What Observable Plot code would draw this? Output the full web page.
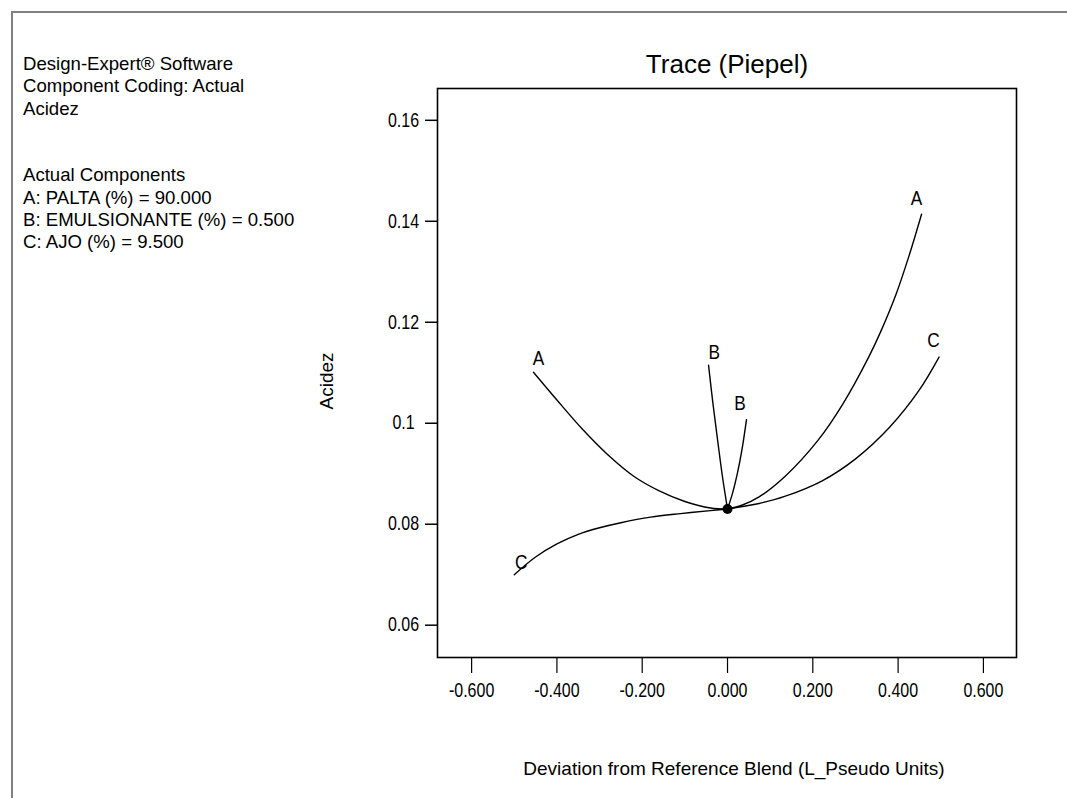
<!DOCTYPE html>
<html><head><meta charset="utf-8">
<script src="https://cdn.jsdelivr.net/npm/d3@7"></script>
<script src="https://cdn.jsdelivr.net/npm/@observablehq/plot@0.6"></script>
<style>
html,body{margin:0;padding:0;background:#fff;width:1067px;height:798px;overflow:hidden;}
#border{position:absolute;left:11px;top:11px;width:1060px;height:800px;border-left:2px solid #808080;border-top:2px solid #808080;}
#info{position:absolute;left:23px;top:53px;font-family:"Liberation Sans",Arial,sans-serif;font-size:18.6px;line-height:22.3px;color:#000;white-space:pre;}
#chart{position:absolute;left:0;top:0;}
</style></head><body>
<div id="border"></div>
<div id="info"></div>
<div id="chart"></div>
<script>
// ---- text ----
const infoLines = [
  "Design-Expert® Software",
  "Component Coding: Actual",
  "Acidez",
  "",
  "",
  "Actual Components",
  "A: PALTA (%) = 90.000",
  "B: EMULSIONANTE (%) = 0.500",
  "C: AJO (%) = 9.500"
];
const chartTitle = "Trace (Piepel)";
const xTitle = "Deviation from Reference Blend (L_Pseudo Units)";
const yTitle = "Acidez";

// ---- ticks ----
const xTicks = [-0.6, -0.4, -0.2, 0, 0.2, 0.4, 0.6];
const xTickLabels = ["-0.600", "-0.400", "-0.200", "0.000", "0.200", "0.400", "0.600"];
const yTicks = [0.06, 0.08, 0.1, 0.12, 0.14, 0.16];
const yTickLabels = ["0.06", "0.08", "0.1", "0.12", "0.14", "0.16"];

// ---- trace curves (deviation, acidez) ----
const aLeftX  = [0, -0.04, -0.10, -0.16, -0.22, -0.28, -0.34, -0.40, -0.455];
const aLeftY  = [0.0830, 0.0832, 0.0845, 0.0866, 0.0895, 0.0937, 0.0988, 0.1046, 0.1101];
const aRightX = [0, 0.035, 0.074, 0.134, 0.212, 0.271, 0.331, 0.360, 0.395, 0.425, 0.455];
const aRightY = [0.0830, 0.0838, 0.0854, 0.0894, 0.0966, 0.1039, 0.1131, 0.1183, 0.1255, 0.1330, 0.1414];
const bLeftX  = [0, -0.012, -0.023, -0.034, -0.0445];
const bLeftY  = [0.0830, 0.0895, 0.0965, 0.1038, 0.1115];
const bRightX = [0, 0.012, 0.023, 0.034, 0.0445];
const bRightY = [0.0830, 0.0862, 0.0900, 0.0948, 0.1007];
const cLeftX  = [0, -0.04, -0.11, -0.18, -0.25, -0.30, -0.35, -0.40, -0.45, -0.50];
const cLeftY  = [0.0830, 0.0827, 0.0821, 0.0814, 0.0803, 0.0793, 0.0780, 0.0761, 0.0735, 0.0700];
const cRightX = [0, 0.035, 0.074, 0.134, 0.222, 0.301, 0.380, 0.449, 0.496];
const cRightY = [0.0830, 0.0835, 0.0841, 0.0855, 0.0886, 0.0930, 0.0992, 0.1065, 0.1131];

// reference blend point
const refX = [0];
const refY = [0.0830];

// curve end labels
const labelText = ["A", "A", "B", "B", "C", "C"];
const labelX = [-0.443, 0.443, -0.031, 0.029, -0.484, 0.483];
const labelY = [0.1128, 0.1445, 0.1141, 0.1039, 0.0725, 0.1164];

// ---- build rows ----
const series = [
  ["A-", aLeftX, aLeftY], ["A+", aRightX, aRightY],
  ["B-", bLeftX, bLeftY], ["B+", bRightX, bRightY],
  ["C-", cLeftX, cLeftY], ["C+", cRightX, cRightY]
];
const rows = series.flatMap(([k, xs, ys]) => xs.map((x, i) => ({k, x, y: ys[i]})));
const refRows = refX.map((x, i) => ({x, y: refY[i]}));
const labelRows = labelText.map((t, i) => ({t, x: labelX[i], y: labelY[i]}));
const yTickRows = yTicks.map((y, i) => ({y, t: yTickLabels[i]}));

document.getElementById("info").textContent = infoLines.join("\n");

const regular = '"Liberation Sans",Arial,sans-serif';

const chart = Plot.plot({
  width: 1067, height: 798,
  marginLeft: 437, marginRight: 51, marginTop: 88, marginBottom: 141,
  x: {domain: [-0.68, 0.6776]},
  y: {domain: [0.0536, 0.1663]},
  style: {background: "transparent", color: "#000", fontFamily: regular},
  marks: [
    Plot.axisX({ticks: xTicks, tickFormat: d => xTickLabels[xTicks.indexOf(d)], tickSize: 16, tickPadding: 10,
      fontSize: 19.5, label: null, strokeWidth: 1.2}),
    Plot.axisY({ticks: yTicks, tickFormat: () => "", tickSize: 12, label: null, strokeWidth: 1.5}),
    Plot.text(yTickRows, {y: "y", text: "t", frameAnchor: "left", dx: -34, textAnchor: "middle", lineAnchor: "middle", fontSize: 19.5, fill: "#000"}),
    Plot.frame({stroke: "#000", strokeWidth: 1.6}),
    Plot.line(rows, {x: "x", y: "y", z: "k", curve: "catmull-rom", stroke: "#000", strokeWidth: 1.4}),
    Plot.dot(refRows, {x: "x", y: "y", r: 5, fill: "#000", stroke: null}),
    Plot.text(labelRows, {x: "x", y: "y", text: "t", fontSize: 21, lineAnchor: "middle", fill: "#000"}),
    Plot.text([chartTitle], {text: d => d, frameAnchor: "top", dy: -24, lineAnchor: "middle", fontSize: 26, fill: "#000"}),
    Plot.text([xTitle], {text: d => d, frameAnchor: "bottom", dy: 111, dx: 7, lineAnchor: "middle", fontSize: 19, fill: "#000"}),
    Plot.text([yTitle], {text: d => d, frameAnchor: "left", dx: -111, dy: 8, rotate: -90, textAnchor: "middle", lineAnchor: "middle", fontSize: 19, fill: "#000"})
  ]
});

// emulate a narrow face (Arial Narrow-like) for tick labels and curve labels:
// horizontal scale only, so vertical placement (y / dy in em) is untouched
const narrowSet = new Set([...xTickLabels, ...yTickLabels, ...labelText]);
d3.select(chart).selectAll("text").each(function () {
  if (!narrowSet.has(this.textContent)) return;
  const t = this.getAttribute("transform") || "";
  const xa = this.getAttribute("x");
  let tx = 0;
  if (xa !== null && /^-?[\d.]+$/.test(xa.trim())) { tx = +xa; this.removeAttribute("x"); }
  this.setAttribute("transform", `${t} translate(${tx},0) scale(0.82,1)`);
});
document.getElementById("chart").appendChild(chart);
</script>
</body></html>
